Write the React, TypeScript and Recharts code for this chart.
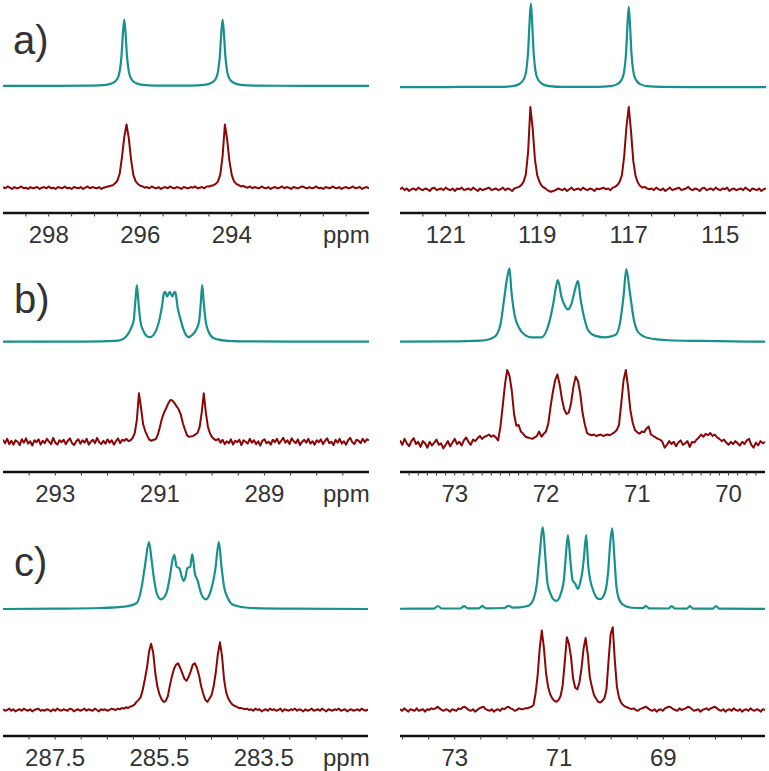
import React from 'react';
import { LineChart, Line, XAxis, YAxis } from 'recharts';

const TEAL = '#17918e';
const RED = '#8b0606';
const TEXT = '#333333';
const FONT = '"Liberation Sans", Arial, Helvetica, sans-serif';

type Pt = [number, number];

// ---------- Panel a, left (ppm 299 -> 291) ----------
const aLeftTicks = [298.5, 298, 297.5, 297, 296.5, 296, 295.5, 295, 294.5, 294, 293.5, 293, 292.5, 292, 291.5];
const aLeftLabels = [298, 296, 294];
const aLeftSim: Pt[] = [
  [299, 0.2], [298, 0.3], [297.2, 0.5], [297.05, 0.6], [296.75, 1.8], [296.6, 4.5], [296.5, 11], [296.45, 22],
  [296.41, 45], [296.38, 78], [296.35, 100], [296.32, 78], [296.29, 45], [296.25, 22], [296.2, 11], [296.1, 4.5],
  [295.95, 1.8], [295.65, 0.6], [295.3, 0.5], [294.9, 0.6], [294.6, 1.8], [294.45, 4.5], [294.35, 11], [294.3, 22],
  [294.26, 45], [294.23, 78], [294.2, 100], [294.17, 78], [294.14, 45], [294.1, 22], [294.05, 11], [293.95, 4.5],
  [293.8, 1.8], [293.5, 0.6], [293.0, 0.4], [292, 0.3], [291, 0.2],
];
const aLeftExpStart = 299;
const aLeftExpStep = 0.05;
const aLeftExp = [
  1, -1, 2, 0, -2, 1, -1, 0, 2, -1,
  0, -2, 1, -1, 0, 1, -2, 0, 1, -1,
  2, -1, 0, -2, 1, 0, -1, 2, -1, 0,
  -2, 1, 0, -1, 1, -2, 0, 2, -1, 1,
  0, -1, 1, -2, 0, 1, 2, 3, 4, 7,
  11, 22, 48, 80, 100, 78, 44, 20, 10, 6,
  3, 2, 0, 1, -1, 2, 0, -1, 1, -2,
  0, 1, -1, 2, 0, -1, 1, 0, -2, 1,
  0, -1, 1, 0, 2, -1, 0, 1, -1, 2,
  2, 3, 4, 6, 10, 21, 50, 100, 76, 42,
  20, 10, 6, 4, 2, 3, 1, 0, 2, -1,
  1, 0, -1, 2, 0, -1, 1, -2, 0, 1,
  -1, 0, 2, -1, 1, 0, -2, 1, 0, -1,
  1, 2, 0, -1, 1, -1, 0, 2, -1, 0,
  -2, 1, 0, -1, 2, 0, -1, 1, -2, 0,
  1, -1, 0, 2, -1, 0, 1, -2, 0, 1, -1,
];

// ---------- Panel a, right (ppm 122 -> 114) ----------
const aRightTicks = [121.5, 121, 120.5, 120, 119.5, 119, 118.5, 118, 117.5, 117, 116.5, 116, 115.5, 115, 114.5];
const aRightLabels = [121, 119, 117, 115];
const aRightSim: Pt[] = [
  [122, 0.2], [121, 0.3], [120.2, 0.5], [119.84, 0.5], [119.54, 1.5], [119.39, 4], [119.29, 10], [119.24, 20],
  [119.2, 42], [119.17, 75], [119.14, 100], [119.11, 75], [119.08, 42], [119.04, 20], [118.99, 10], [118.89, 4],
  [118.74, 1.5], [118.44, 0.5], [118.1, 0.5], [117.7, 0.5], [117.4, 1.4], [117.25, 3.8], [117.15, 9.6], [117.1, 19],
  [117.06, 40], [117.03, 72], [117.0, 96], [116.97, 72], [116.94, 40], [116.9, 19], [116.85, 9.6], [116.75, 3.8],
  [116.6, 1.4], [116.3, 0.5], [115.5, 0.3], [114, 0.2],
];
const aRightExpStart = 122;
const aRightExpStep = 0.05;
const aRightExp = [
  0, 2, -1, 1, -2, 0, 1, -1, 2, 0,
  -1, 1, 0, -2, 1, 2, -1, 0, 1, -1,
  2, 0, -1, 1, -2, 1, 0, 2, -1, 0,
  1, -1, 2, 0, -2, 1, -1, 0, 1, 2,
  -1, 0, 1, -1, 0, 2, -1, 1, 0, -2,
  1, 2, 3, 5, 9, 18, 45, 100, 74, 36,
  17, 9, 4, 2, 0, -2, -3, -2, -1, 1,
  0, -1, 1, -2, 0, 2, -1, 0, 1, -1,
  2, 0, -1, 1, 0, -2, 1, 0, 1, 2,
  0, 1, -1, 2, 3, 5, 9, 17, 40, 76,
  100, 70, 34, 16, 8, 4, 2, 3, 1, 0,
  1, -1, 2, 0, -1, 1, -2, 0, 2, -1,
  0, 1, 2, -1, 0, 1, 3, 0, -1, 1,
  0, -2, 1, 2, -1, 0, 1, -1, 2, 0,
  -1, 1, 0, 2, -2, 0, 1, -1, 0, 1,
  -1, 2, 0, -2, 1, 0, -1, 1, -2, 0, 1,
];

// ---------- Panel b, left (ppm 294 -> 287) ----------
const bLeftTicks = [293.5, 293, 292.5, 292, 291.5, 291, 290.5, 290, 289.5, 289, 288.5, 288, 287.5];
const bLeftLabels = [293, 291, 289];
const bLeftSim: Pt[] = [
  [294, 0], [292.5, 0.3], [292.0, 1], [291.8, 2], [291.7, 5], [291.62, 12], [291.55, 24], [291.5, 38],
  [291.47, 70], [291.44, 100], [291.41, 70], [291.37, 35], [291.32, 20], [291.25, 10], [291.19, 8], [291.12, 12],
  [291.05, 25], [291.0, 42], [290.96, 62], [290.92, 86], [290.9, 88], [290.86, 80], [290.81, 88], [290.76, 80],
  [290.72, 88], [290.7, 86], [290.66, 60], [290.6, 38], [290.55, 22], [290.5, 12], [290.45, 8], [290.38, 12],
  [290.3, 22], [290.25, 36], [290.22, 65], [290.19, 100], [290.16, 68], [290.12, 34], [290.07, 18], [290.0, 8],
  [289.9, 4], [289.7, 1.5], [289.3, 0.5], [288.5, 0.2], [287, 0],
];
const bLeftExpStart = 294;
const bLeftExpStep = 0.04;
const bLeftExp = [
  4, -3, 6, -5, 2, -6, 3, 0, -7, 5,
  -2, 7, -4, 1, -8, 3, -1, 5, -6, 2,
  -3, 6, 0, -5, 8, -2, -6, 3, -1, 4,
  -5, 2, 7, -3, -7, 1, 5, -4, 3, -2,
  6, -6, 0, 4, -3, 8, -1, -5, 2, -4,
  5, -2, 3, -6, 1, 7, -3, 4, 2, 6,
  1, 3, 8, 18, 45, 100, 70, 36, 22, 12,
  4, 2, 4, 5, 14, 30, 48, 60, 69, 79,
  86, 85, 80, 73, 67, 56, 38, 25, 13, 10,
  11, 12, 15, 18, 30, 60, 100, 60, 30, 17,
  9, 5, 3, 6, -2, 4, -5, 1, -3, 5,
  -6, 2, -1, 4, -7, 3, 0, -4, 6, -2,
  3, -5, 1, -8, 2, 5, -3, 0, -6, 4,
  -1, 6, -4, 2, 8, -2, 3, -5, 7, 1,
  -3, 5, -7, 0, 4, -2, 6, -4, 1, -6,
  3, -1, 5, -5, 2, 7, -3, 0, -7, 4,
  -2, 6, -4, 1, -6, 3, 8, -1, -5, 4,
  2, -3, 6, -1, 5, 3,
];

// ---------- Panel b, right (ppm 73.6 -> 69.6) ----------
const bRightTicks = [
  73.5, 73.4, 73.3, 73.2, 73.1, 73, 72.9, 72.8, 72.7, 72.6, 72.5, 72.4, 72.3, 72.2, 72.1, 72, 71.9, 71.8, 71.7, 71.6,
  71.5, 71.4, 71.3, 71.2, 71.1, 71, 70.9, 70.8, 70.7, 70.6, 70.5, 70.4, 70.3, 70.2, 70.1, 70, 69.9, 69.8, 69.7,
];
const bRightLabels = [73, 72, 71, 70];
const bRightSim: Pt[] = [
  [73.6, 0], [73.0, 0.5], [72.8, 1], [72.67, 2], [72.56, 7], [72.5, 23], [72.46, 57], [72.43, 84], [72.4, 100],
  [72.38, 70], [72.34, 34], [72.3, 20], [72.23, 9], [72.16, 6], [72.05, 6], [71.98, 20], [71.92, 52], [71.89, 75],
  [71.87, 84], [71.83, 61], [71.79, 48], [71.76, 44], [71.72, 52], [71.68, 72], [71.65, 83], [71.62, 57], [71.58, 32],
  [71.54, 16], [71.46, 8], [71.35, 6], [71.24, 9], [71.19, 25], [71.15, 62], [71.12, 99], [71.08, 66], [71.04, 32],
  [70.99, 13], [70.88, 5], [70.66, 2], [70.3, 1], [69.6, 0],
];
const bRightExpStart = 73.6;
const bRightExpStep = 0.025;
const bRightExp = [
  4, -2, 6, 0, -4, 3, 7, -1, 2, -5,
  3, 0, -6, 2, -3, 1, 5, -2, 0, -7,
  -2, 3, -4, 1, 6, -1, 2, -3, 4, 8,
  2, -2, 5, 3, 7, 10, 6, 9, 10, 12,
  9, 11, 8, 4, 22, 50, 80, 100, 92, 72,
  40, 24, 25, 16, 13, 9, 8, 7, 6, 8,
  10, 16, 9, 13, 16, 27, 50, 70, 86, 94,
  80, 60, 46, 40, 42, 55, 77, 91, 85, 68,
  42, 26, 14, 12, 11, 12, 10, 11, 12, 10,
  11, 12, 11, 13, 15, 18, 25, 55, 86, 100,
  76, 45, 28, 18, 15, 13, 16, 15, 20, 23,
  12, 10, 8, 6, 5, 2, -6, -2, 3, -1,
  2, -4, 1, 4, -2, 0, 3, -5, 2, 1,
  5, 8, 12, 9, 13, 11, 14, 10, 12, 8,
  6, 3, 5, 1, -2, 2, -1, 3, 0, -3,
  2, -1, 4, 6, -2, -6, 1, -3, 3, 0,
  2,
];

// ---------- Panel c, left (ppm 288.5 -> 281.5) ----------
const cLeftTicks = [288, 287.5, 287, 286.5, 286, 285.5, 285, 284.5, 284, 283.5, 283, 282.5, 282];
const cLeftLabels = [287.5, 285.5, 283.5];
const cLeftSim: Pt[] = [
  [288.5, 0], [287.5, 0.5], [286.64, 1.5], [286.13, 4], [285.94, 8.5], [285.84, 33], [285.78, 63], [285.7, 100],
  [285.65, 73], [285.6, 43], [285.55, 23], [285.47, 14.5], [285.37, 23], [285.3, 48], [285.25, 73], [285.215, 81],
  [285.17, 63], [285.12, 61], [285.07, 48], [285.04, 42], [285.0, 48], [284.965, 61], [284.91, 63], [284.87, 82],
  [284.82, 53], [284.77, 43], [284.7, 23], [284.61, 14.5], [284.52, 26], [284.43, 58], [284.36, 100], [284.31, 63],
  [284.26, 33], [284.18, 15], [284.08, 6], [283.76, 1.5], [283.0, 0.5], [281.5, 0],
];
const cLeftExpStart = 288.5;
const cLeftExpStep = 0.04;
const cLeftExp = [
  1, -1, 0, 2, -1, 1, -2, 0, 1, -1,
  2, 0, -1, 1, -2, 0, 1, 2, -1, 0,
  -1, 1, 0, -2, 1, -1, 2, 0, -1, 1,
  0, -1, 2, 1, -2, 0, 1, -1, 0, 2,
  -1, 1, 0, -1, 2, 0, -2, 1, 0, 1,
  -1, 0, 2, 1, 0, 2, 1, 3, 2, 4,
  3, 5, 6, 8, 12, 15, 19, 30, 45, 62,
  86, 98, 85, 55, 35, 23, 16, 12, 13, 20,
  36, 50, 61, 67, 69, 62, 54, 46, 43, 49,
  57, 67, 69, 62, 51, 35, 24, 15, 12, 17,
  22, 35, 55, 82, 100, 80, 45, 26, 17, 12,
  8, 6, 5, 3, 3, 2, 1, 2, 0, 1,
  -1, 2, 0, 1, -2, 0, 1, -1, 2, 0,
  1, -1, 0, 2, -2, 1, 0, -1, 1, 0,
  2, -1, 1, 0, -2, 1, -1, 0, 2, -1,
  0, 1, -1, 2, 0, -2, 1, 0, -1, 1,
  0, 2, -1, 0, 1, -2, 0, 1, -1, 0,
  1, -1, 2, 0, -1, 1,
];

// ---------- Panel c, right (ppm 74.05 -> 67.05) ----------
const cRightTicks = [74, 73.5, 73, 72.5, 72, 71.5, 71, 70.5, 70, 69.5, 69, 68.5, 68, 67.5];
const cRightLabels = [73, 71, 69];
const cRightSim: Pt[] = [
  [74.05, 0.3], [73.4, 0.5], [73.32, 3.7], [73.25, 0.6], [72.9, 0.6], [72.82, 3.5], [72.75, 0.7], [72.54, 0.8],
  [72.47, 3.5], [72.4, 0.8], [72.05, 1.2], [71.97, 4], [71.9, 1.8], [71.75, 2], [71.65, 3], [71.56, 5],
  [71.49, 12], [71.43, 28.5], [71.38, 61], [71.31, 100], [71.26, 61], [71.22, 31], [71.17, 20], [71.11, 12],
  [71.05, 10], [70.96, 20], [70.905, 37], [70.87, 65], [70.83, 90.6], [70.78, 57], [70.74, 35], [70.69, 31],
  [70.64, 24.5], [70.6, 31], [70.55, 47], [70.52, 65], [70.48, 90.6], [70.44, 53], [70.4, 35], [70.34, 22],
  [70.28, 14], [70.21, 12], [70.12, 20], [70.055, 48], [70.02, 80], [69.98, 98.8], [69.94, 65], [69.9, 28],
  [69.86, 14], [69.77, 5], [69.61, 1.5], [69.4, 1], [69.33, 3.7], [69.27, 0.8], [68.9, 0.6], [68.84, 3.5],
  [68.78, 0.6], [68.55, 0.5], [68.49, 3.5], [68.43, 0.5], [68.05, 0.5], [67.99, 3.7], [67.93, 0.4], [67.05, 0.2],
];
const cRightExpStart = 74.05;
const cRightExpStep = 0.04;
const cRightExp = [
  1, -1, 2, 0, -2, 1, 0, -1, 2, -1,
  0, 1, -2, 1, 0, 2, 1, 2, 4, 2,
  0, -1, 1, 0, -2, 1, 0, -1, 2, 1,
  3, 4, 2, 0, -1, 1, -2, 0, 2, 3,
  4, 1, 0, -1, 1, -2, 0, 1, -1, 2,
  1, 3, 4, 2, 1, -1, 0, 2, 1, 1,
  2, 2, 3, 4, 6, 20, 42, 75, 96, 75,
  45, 28, 19, 14, 11, 10, 12, 17, 30, 58,
  88, 80, 64, 38, 27, 25, 33, 50, 74, 87,
  68, 40, 28, 18, 14, 10, 9, 11, 14, 25,
  60, 92, 100, 60, 28, 15, 9, 6, 4, 3,
  2, 1, 2, 0, -1, 1, 2, 3, 4, 2,
  0, -1, 1, -2, 0, 1, -1, 2, 3, 4,
  3, 1, 0, -1, 2, 0, 1, 2, 4, 3,
  1, -1, 0, 1, -2, 0, 1, 2, 0, 2,
  3, 4, 2, 0, -1, 1, -2, 0, 1, -1,
  2, 0, -1, 1, -2, 0, 1, -1, 2, 0,
  -1, 1, 0, -2, 1, 0,
];

// ---------- helpers ----------
type Row = { x: number; y: number };
const fromGrid = (start: number, step: number, vals: number[]): Row[] =>
  vals.map((v, i) => ({ x: +(start - i * step).toFixed(4), y: v }));
const fromPairs = (p: Pt[]): Row[] => p.map(([x, y]) => ({ x, y }));

// domain such that value 0 sits at pixel yBase and value 100 at pixel yPeak (plot coords)
const yDomain = (plotH: number, yBase: number, yPeak: number): [number, number] => {
  const s = (yBase - yPeak) / 100;
  return [(yBase - plotH) / s, yBase / s];
};

type PanelProps = {
  left: number;
  top: number;
  width: number;
  height: number;
  axisH: number;
  domain: [number, number];
  ticks: number[];
  labels: number[];
  sim: Row[];
  exp: Row[];
  simBase: number;
  simPeak: number;
  expBase: number;
  expPeak: number;
};

const Panel: React.FC<PanelProps> = (p) => {
  const plotH = p.height - p.axisH;
  const renderTick = (props: any) => {
    const v = props.payload?.value;
    if (!p.labels.includes(v)) return <g />;
    return (
      <text
        x={props.x}
        y={props.y + 26.5}
        textAnchor="middle"
        fontFamily={FONT}
        fontSize={24}
        fill={TEXT}
      >
        {String(v)}
      </text>
    );
  };
  return (
    <div style={{ position: 'absolute', left: p.left, top: p.top }}>
      <LineChart width={p.width} height={p.height} margin={{ top: 0, right: 0, bottom: 0, left: 0 }}>
        <XAxis
          type="number"
          dataKey="x"
          domain={p.domain}
          reversed
          allowDataOverflow
          ticks={p.ticks}
          interval={0}
          height={p.axisH}
          tickSize={3.5}
          tickMargin={0}
          tickLine={{ stroke: '#333', strokeWidth: 1 }}
          axisLine={{ stroke: '#111', strokeWidth: 2.6 }}
          tick={renderTick}
        />
        <YAxis yAxisId="sim" type="number" hide allowDataOverflow domain={yDomain(plotH, p.simBase, p.simPeak)} />
        <YAxis yAxisId="exp" type="number" hide allowDataOverflow domain={yDomain(plotH, p.expBase, p.expPeak)} />
        <Line
          yAxisId="sim"
          data={p.sim}
          dataKey="y"
          type="monotone"
          stroke={TEAL}
          strokeWidth={2.2}
          dot={false}
          activeDot={false}
          isAnimationActive={false}
        />
        <Line
          yAxisId="exp"
          data={p.exp}
          dataKey="y"
          type="linear"
          stroke={RED}
          strokeWidth={2}
          strokeLinejoin="round"
          dot={false}
          activeDot={false}
          isAnimationActive={false}
        />
      </LineChart>
    </div>
  );
};

export default function App() {
  return (
    <div
      style={{
        position: 'absolute',
        left: 0,
        top: 0,
        width: 769,
        height: 771,
        background: '#ffffff',
        overflow: 'hidden',
      }}
    >
      <Panel
        left={3} top={0} width={366} height={260} axisH={47}
        domain={[291, 299]} ticks={aLeftTicks} labels={aLeftLabels}
        sim={fromPairs(aLeftSim)} exp={fromGrid(aLeftExpStart, aLeftExpStep, aLeftExp)}
        simBase={86} simPeak={19.5} expBase={187.7} expPeak={124.5}
      />
      <Panel
        left={400} top={0} width={366} height={260} axisH={47}
        domain={[114, 122]} ticks={aRightTicks} labels={aRightLabels}
        sim={fromPairs(aRightSim)} exp={fromGrid(aRightExpStart, aRightExpStep, aRightExp)}
        simBase={87.3} simPeak={3.3} expBase={189.3} expPeak={107}
      />
      <Panel
        left={3} top={260} width={366} height={250} axisH={38}
        domain={[287, 294]} ticks={bLeftTicks} labels={bLeftLabels}
        sim={fromPairs(bLeftSim)} exp={fromGrid(bLeftExpStart, bLeftExpStep, bLeftExp)}
        simBase={81.7} simPeak={25} expBase={181.7} expPeak={133.3}
      />
      <Panel
        left={400} top={260} width={365} height={250} axisH={38}
        domain={[69.6, 73.6]} ticks={bRightTicks} labels={bRightLabels}
        sim={fromPairs(bRightSim)} exp={fromGrid(bRightExpStart, bRightExpStep, bRightExp)}
        simBase={81.7} simPeak={8.3} expBase={183.3} expPeak={110}
      />
      <Panel
        left={3} top={510} width={365} height={261} axisH={35}
        domain={[281.5, 288.5]} ticks={cLeftTicks} labels={cLeftLabels}
        sim={fromPairs(cLeftSim)} exp={fromGrid(cLeftExpStart, cLeftExpStep, cLeftExp)}
        simBase={99} simPeak={32} expBase={200} expPeak={132.3}
      />
      <Panel
        left={400} top={510} width={365} height={261} axisH={35}
        domain={[67.05, 74.05]} ticks={cRightTicks} labels={cRightLabels}
        sim={fromPairs(cRightSim)} exp={fromGrid(cRightExpStart, cRightExpStep, cRightExp)}
        simBase={99} simPeak={17.3} expBase={200} expPeak={117.3}
      />
      <svg
        width={769}
        height={771}
        style={{ position: 'absolute', left: 0, top: 0, pointerEvents: 'none' }}
      >
        <g fontFamily={FONT} fill={TEXT}>
          <text x={13} y={54} fontSize={40}>a)</text>
          <text x={14} y={313} fontSize={40}>b)</text>
          <text x={14} y={576} fontSize={40}>c)</text>
          <text x={323} y={243} fontSize={24}>ppm</text>
          <text x={323} y={502} fontSize={24}>ppm</text>
          <text x={323} y={766} fontSize={24}>ppm</text>
        </g>
      </svg>
    </div>
  );
}
